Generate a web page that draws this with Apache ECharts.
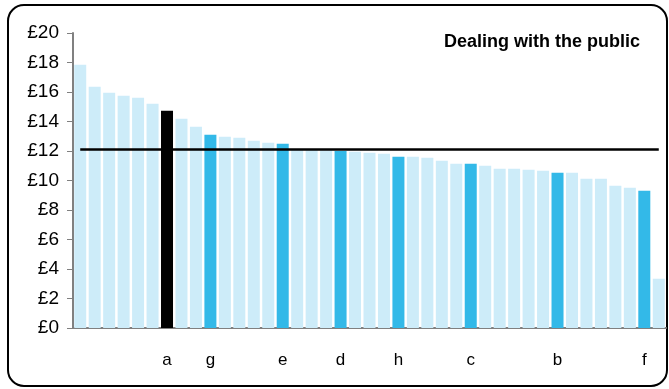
<!DOCTYPE html>
<html>
<head>
<meta charset="utf-8">
<script src="https://cdn.jsdelivr.net/npm/echarts@6/dist/echarts.min.js"></script>
<style>
  html, body { margin: 0; padding: 0; background: #fff; }
  #chart { width: 669px; height: 389px; }
</style>
</head>
<body>
<div id="chart"></div>
<script>
// hourly pay, sorted high to low
var areas = [];
for (var i = 1; i <= 41; i++) areas.push(String(i));
var pay = [17.85, 16.36, 15.95, 15.75, 15.61, 15.2, 14.73, 14.19, 13.65, 13.1,
  12.97, 12.9, 12.7, 12.56, 12.49, 12.1, 12.1, 12.05, 12.0, 11.95,
  11.88, 11.81, 11.61, 11.61, 11.54, 11.34, 11.14, 11.14, 11.0, 10.8,
  10.8, 10.73, 10.66, 10.53, 10.53, 10.12, 10.12, 9.65, 9.51, 9.31, 3.34];
var marks = ['', '', '', '', '', '', 'a', '', '', 'g',
  '', '', '', '', 'e', '', '', '', 'd', '',
  '', '', 'h', '', '', '', '', 'c', '', '',
  '', '', '', 'b', '', '', '', '', '', 'f', ''];
var average = 12.1;
var yTicks = [0, 2, 4, 6, 8, 10, 12, 14, 16, 18, 20];

var chartDom = document.getElementById('chart');
var myChart = echarts.init(chartDom);
var option;

var barData = pay.map(function (v, i) {
    var c = '#cdecf9';
    if (marks[i] === 'a') c = '#000000';
    else if (marks[i] !== '') c = '#33b9e8';
    return { value: v, itemStyle: { color: c } };
});

option = {
    animation: false,
    textStyle: { fontFamily: 'Arial, "Liberation Sans", sans-serif' },
    title: {
        text: 'Dealing with the public',
        right: 29,
        top: 33,
        padding: 0,
        textStyle: { fontSize: 18, fontWeight: 'bold', color: '#000' }
    },
    grid: { left: 73, right: 3, top: 33, bottom: 61 },
    xAxis: {
        type: 'category',
        data: areas,
        axisLine: { lineStyle: { color: '#808080', width: 2 } },
        axisTick: { show: false },
        axisLabel: {
            interval: 0,
            margin: 24,
            fontSize: 17,
            color: '#000',
            formatter: function (v, i) { return marks[i]; }
        }
    },
    yAxis: {
        type: 'value',
        min: yTicks[0],
        max: yTicks[yTicks.length - 1],
        interval: 2,
        splitLine: { show: false },
        axisLine: { show: true, lineStyle: { color: '#808080', width: 2 } },
        axisTick: { show: true, length: 6, lineStyle: { color: '#808080' } },
        axisLabel: {
            margin: 14,
            fontSize: 19,
            color: '#000',
            formatter: '£{value}'
        }
    },
    series: [
        {
            type: 'bar',
            data: barData,
            barCategoryGap: '17%',
            markLine: {
                silent: true,
                symbol: ['none', 'none'],
                label: { show: false },
                lineStyle: { color: '#000', width: 2.5, type: 'solid' },
                data: [[{ coord: [0, average] }, { coord: [areas.length - 1, average] }]]
            }
        }
    ],
    graphic: [
        {
            type: 'rect',
            shape: { x: 8, y: 5, width: 659, height: 381, r: 16 },
            style: { fill: 'none', stroke: '#000', lineWidth: 2 },
            silent: true
        }
    ]
};

option && myChart.setOption(option);
</script>
</body>
</html>
